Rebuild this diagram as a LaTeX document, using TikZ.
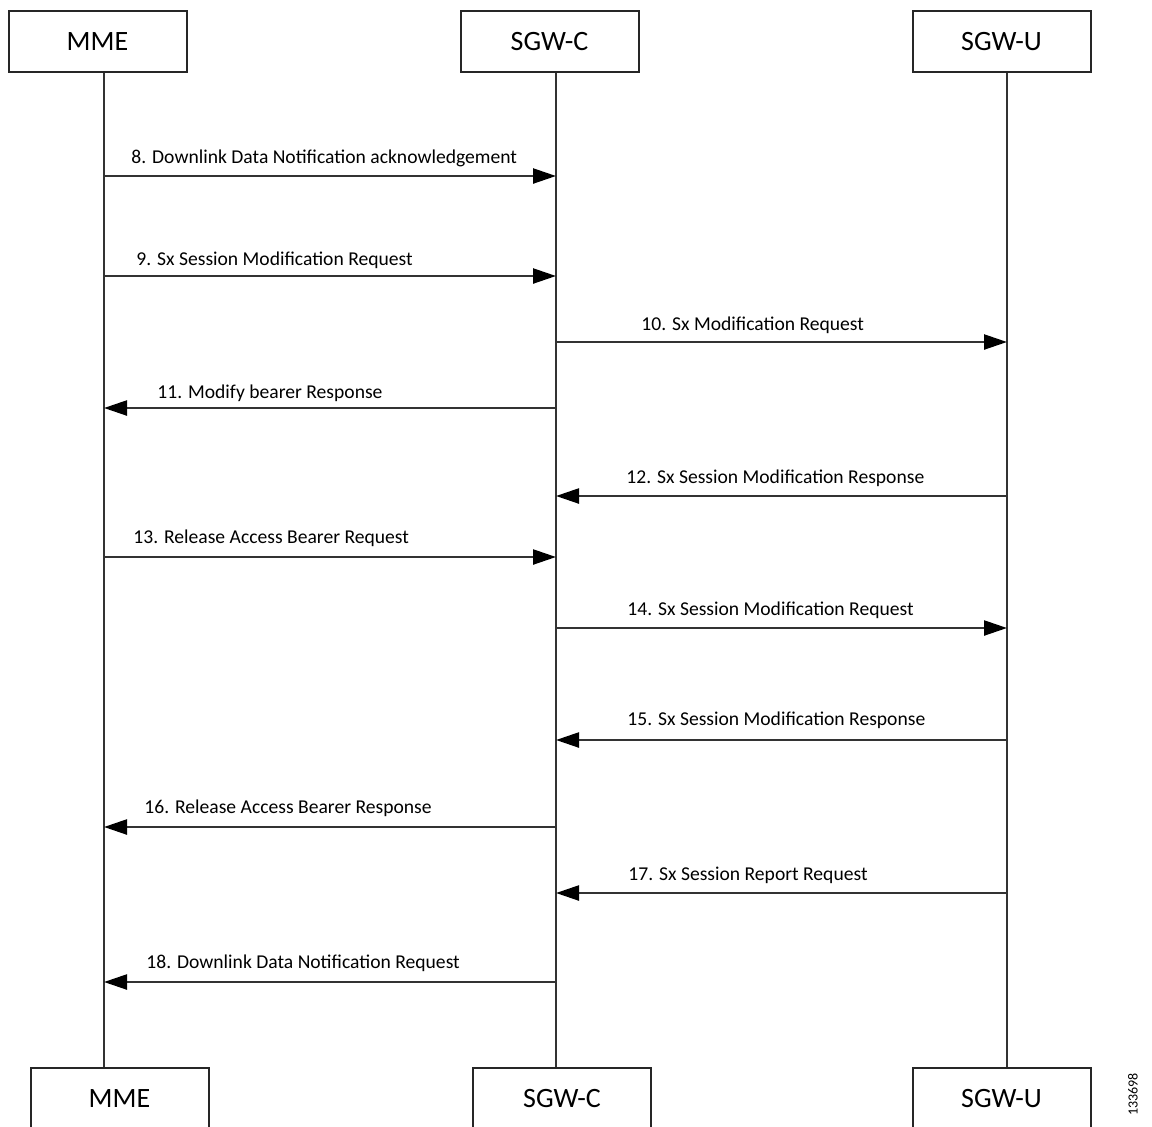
\documentclass[tikz,border=0pt]{standalone}
\usepackage{fontspec}
\setmainfont{Carlito}
\usepackage{tikz}
\usetikzlibrary{arrows.meta}

\begin{document}
\begin{tikzpicture}[x=0.5pt, y=-0.5pt,
                actor node/.style={rectangle,draw=black!85,line width=1pt,fill=white,
                    minimum width=89pt,minimum height=30.5pt,inner sep=0pt,
                    font=\fontsize{14}{16}\selectfont},
                life line/.style={draw=black!80,line width=0.8pt},
                msg/.style={draw=black!80,line width=1.2pt,-{Triangle[length=11.5pt,width=7.5pt,color=black]}},
                msg label/.style={anchor=base west,inner sep=0pt,font=\fontsize{9.8}{11}\selectfont}]

            \useasboundingbox (0,0) rectangle (1152,1126);

            % Nodes
            \node[actor node] (mmeTop) at (97.5,41.5) {MME};
            \node[actor node] (sgwcTop) at (549.5,41.5) {SGW-C};
            \node[actor node] (sgwuTop) at (1001.5,41.5) {SGW-U};
            \node[actor node] (mmeBot) at (119.5,1098.5) {MME};
            \node[actor node] (sgwcBot) at (562,1098.5) {SGW-C};
            \node[actor node] (sgwuBot) at (1001.5,1098.5) {SGW-U};
            \node[rotate=90,inner sep=0pt,font=\fontsize{7}{8}\selectfont] (figNo) at (1133,1094.5) {133698};

            % Lifelines
            \coordinate (mmeL) at (104,0);
            \coordinate (sgwcL) at (556,0);
            \coordinate (sgwuL) at (1007,0);
            \draw[life line] (mmeTop.south -| mmeL) -- (mmeBot.north -| mmeL);
            \draw[life line] (sgwcTop.south -| sgwcL) -- (sgwcBot.north -| sgwcL);
            \draw[life line] (sgwuTop.south -| sgwuL) -- (sgwuBot.north -| sgwuL);

            % Messages
            \draw[msg] (mmeL |- 0,176) -- (sgwcL |- 0,176);
            \node[msg label] (m8) at (131,163) {8. Downlink Data Notification acknowledgement};

            \draw[msg] (mmeL |- 0,276) -- (sgwcL |- 0,276);
            \node[msg label] (m9) at (136,265) {9. Sx Session Modification Request};

            \draw[msg] (sgwcL |- 0,342) -- (sgwuL |- 0,342);
            \node[msg label] (m10) at (641,330) {10. Sx Modification Request};

            \draw[msg] (sgwcL |- 0,408) -- (mmeL |- 0,408);
            \node[msg label] (m11) at (157,398) {11. Modify bearer Response};

            \draw[msg] (sgwuL |- 0,496) -- (sgwcL |- 0,496);
            \node[msg label] (m12) at (626,483) {12. Sx Session Modification Response};

            \draw[msg] (mmeL |- 0,557) -- (sgwcL |- 0,557);
            \node[msg label] (m13) at (133,543) {13. Release Access Bearer Request};

            \draw[msg] (sgwcL |- 0,628) -- (sgwuL |- 0,628);
            \node[msg label] (m14) at (627,615) {14. Sx Session Modification Request};

            \draw[msg] (sgwuL |- 0,740) -- (sgwcL |- 0,740);
            \node[msg label] (m15) at (627,725) {15. Sx Session Modification Response};

            \draw[msg] (sgwcL |- 0,827) -- (mmeL |- 0,827);
            \node[msg label] (m16) at (144,813) {16. Release Access Bearer Response};

            \draw[msg] (sgwuL |- 0,893) -- (sgwcL |- 0,893);
            \node[msg label] (m17) at (628,880) {17. Sx Session Report Request};

            \draw[msg] (sgwcL |- 0,982) -- (mmeL |- 0,982);
            \node[msg label] (m18) at (146,968) {18. Downlink Data Notification Request};

        \end{tikzpicture}
\end{document}
